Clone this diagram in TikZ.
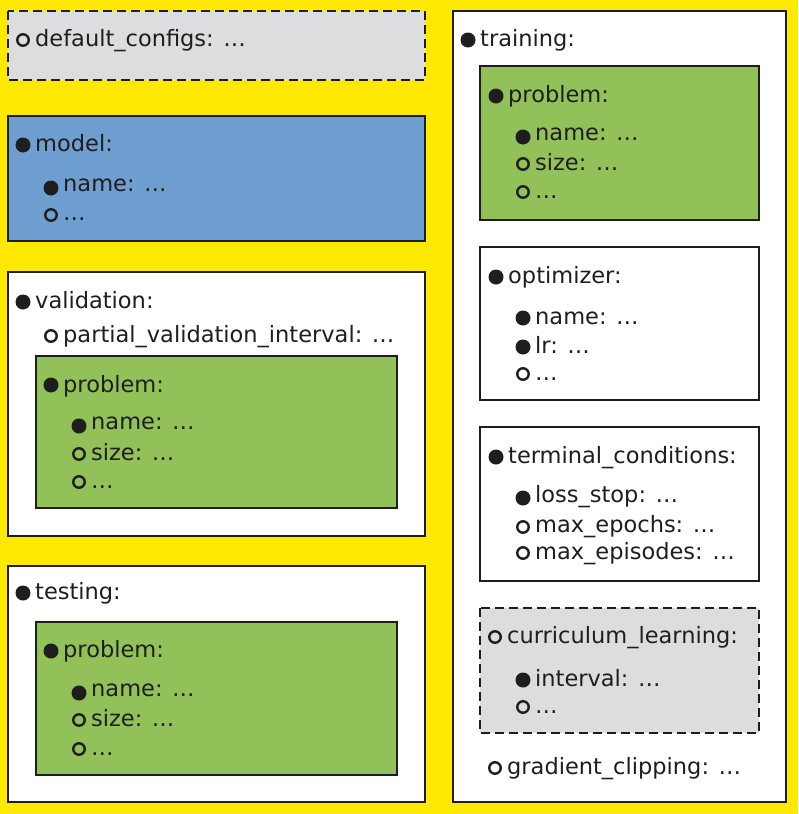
\documentclass[tikz,border=0pt]{standalone}
\usepackage{fontspec}
\setmainfont{DejaVu Sans}
\definecolor{bgyellow}{RGB}{255,233,0}
\definecolor{boxblue}{RGB}{111,159,209}
\definecolor{boxgreen}{RGB}{146,193,90}
\definecolor{boxgray}{RGB}{220,221,223}
\definecolor{boxline}{RGB}{30,30,30}
\tikzset{
  box/.style={draw=boxline, line width=2.8pt},
  dashbox/.style={box, dash pattern=on 9pt off 5pt},
  lbl/.style={anchor=base west, inner sep=0pt, font=\fontsize{22.5}{27}\selectfont, text=boxline},
  fullb/.style={circle, fill=boxline, inner sep=0pt, minimum size=15pt},
  hollowb/.style={circle, draw=boxline, line width=2.4pt, inner sep=0pt, minimum size=11.5pt},
}
\newcommand\fitm[5]{\node[fullb] (#1b) at (#2,#3) {}; \node[lbl] (#1) at ({#2+12},#4) {#5};}
\newcommand\hitm[5]{\node[hollowb] (#1b) at (#2,#3) {}; \node[lbl] (#1) at ({#2+12},#4) {#5};}
\begin{document}
\begin{tikzpicture}[x=1pt,y=-1pt]
\useasboundingbox (0,0) rectangle (798,814);
\fill[bgyellow] (0,0) rectangle (798,814);
% left column boxes
\path[dashbox, fill=boxgray] (8,11) rectangle (425,80);
\path[box, fill=boxblue] (8,116) rectangle (425,241);
\path[box, fill=white] (8,272) rectangle (425,536);
\path[box, fill=boxgreen] (36,356) rectangle (397,508);
\path[box, fill=white] (8,566) rectangle (425,802);
\path[box, fill=boxgreen] (36,622) rectangle (397,775);
% right column boxes
\path[box, fill=white] (453,11) rectangle (786,802);
\path[box, fill=boxgreen] (480,66) rectangle (759,220);
\path[box, fill=white] (480,247) rectangle (759,400);
\path[box, fill=white] (480,427) rectangle (759,581);
\path[dashbox, fill=boxgray] (480,608) rectangle (759,733);
% left texts
\hitm{dc}{23}{40}{46}{default\_configs: …}
\fitm{model}{23}{145}{151}{model:}
\fitm{mname}{51}{188}{191}{name: …}
\hitm{mdots}{51}{215}{220}{…}
\fitm{val}{23}{302}{308}{validation:}
\hitm{pvi}{51}{336}{342}{partial\_validation\_interval: …}
\fitm{vprob}{51}{385}{392}{problem:}
\fitm{vname}{79}{426}{429}{name: …}
\hitm{vsize}{79}{454}{460}{size: …}
\hitm{vdots}{79}{482}{488}{…}
\fitm{test}{23}{593}{599}{testing:}
\fitm{tprob}{51}{651}{657}{problem:}
\fitm{tname}{79}{693}{696}{name: …}
\hitm{tsize}{79}{720}{726}{size: …}
\hitm{tdots}{79}{749}{755}{…}
% right texts
\fitm{train}{468}{40}{46}{training:}
\fitm{rprob}{496}{96}{102}{problem:}
\fitm{rname}{523}{137}{140}{name: …}
\hitm{rsize}{523}{164}{170}{size: …}
\hitm{rdots}{523}{192}{198}{…}
\fitm{opt}{496}{277}{283}{optimizer:}
\fitm{oname}{523}{318}{324}{name: …}
\fitm{olr}{523}{347}{353}{lr: …}
\hitm{odots}{523}{374}{380}{…}
\fitm{term}{496}{457}{463}{terminal\_conditions:}
\fitm{loss}{523}{498}{502}{loss\_stop: …}
\hitm{epochs}{523}{527}{532}{max\_epochs: …}
\hitm{episodes}{523}{553}{559}{max\_episodes: …}
\hitm{curr}{495}{637}{643}{curriculum\_learning:}
\fitm{interval}{523}{680}{686}{interval: …}
\hitm{cdots}{523}{707}{713}{…}
\hitm{grad}{495}{768}{774}{gradient\_clipping: …}
\end{tikzpicture}
\end{document}
